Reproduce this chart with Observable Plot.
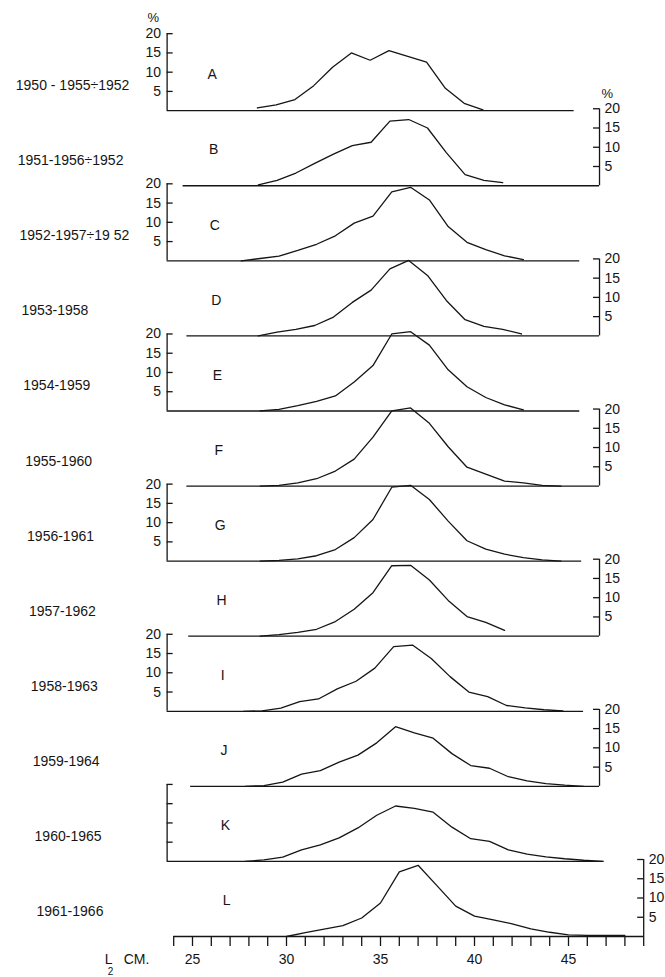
<!DOCTYPE html>
<html>
<head>
<meta charset="utf-8">
<script src="https://cdn.jsdelivr.net/npm/d3@7"></script>
<script src="https://cdn.jsdelivr.net/npm/@observablehq/plot@0.6"></script>
<style>
  html, body { margin: 0; padding: 0; background: #fff; }
  #chart svg { display: block; }
</style>
</head>
<body>
<div id="chart"></div>
<script>
// ---------------- data ----------------
const panelIds = ["A","B","C","D","E","F","G","H","I","J","K","L"];
const periods = [
  "1950 - 1955÷1952", "1951-1956÷1952", "1952-1957÷19 52", "1953-1958",
  "1954-1959", "1955-1960", "1956-1961", "1957-1962",
  "1958-1963", "1959-1964", "1960-1965", "1961-1966"
];
// length (cm) of the first plotted point of each curve; points are 1 cm apart
const firstLength = [28.45, 28.5, 27.6, 28.5, 28.6, 28.6, 28.6, 28.6, 27.7, 27.8, 27.8, 30.0];
// percentage frequencies
const pctA = [0.7, 1.5, 2.9, 6.5, 11.3, 15.0, 13.1, 15.6, 14.1, 12.6, 5.8, 1.9, 0.2];
const pctB = [0.2, 1.4, 3.3, 5.8, 8.2, 10.4, 11.3, 16.8, 17.2, 15.0, 8.6, 2.9, 1.4, 0.8];
const pctC = [0, 0.6, 1.2, 2.7, 4.3, 6.5, 9.8, 11.6, 17.9, 19.1, 15.8, 8.9, 4.8, 2.9, 1.3, 0.3];
const pctD = [0, 1.0, 1.7, 2.7, 4.9, 8.7, 11.9, 17.4, 19.6, 15.7, 9.2, 4.2, 2.5, 1.7, 0.5];
const pctE = [0, 0.4, 1.4, 2.5, 3.9, 7.5, 11.8, 20.0, 20.6, 17.1, 10.7, 6.3, 3.5, 1.6, 0.3];
const pctF = [0, 0.2, 0.8, 1.9, 3.9, 7.0, 12.7, 19.5, 20.3, 16.3, 10.2, 4.9, 3.1, 1.3, 0.8, 0.2, 0];
const pctG = [0, 0.2, 0.6, 1.4, 3.0, 6.1, 10.8, 19.2, 19.7, 16.0, 10.4, 5.3, 3.1, 1.8, 0.9, 0.3, 0];
const pctH = [0, 0.4, 1.0, 1.8, 3.8, 7.0, 11.3, 18.3, 18.4, 14.6, 9.3, 5.1, 3.6, 1.5];
const pctI = [0, 0.1, 0.8, 2.5, 3.2, 5.8, 7.8, 11.2, 16.8, 17.2, 13.7, 9.0, 5.0, 3.8, 1.5, 0.9, 0.4, 0.1];
const pctJ = [0, 0.2, 1.1, 3.2, 4.1, 6.3, 8.1, 11.3, 15.5, 13.9, 12.5, 8.5, 5.4, 4.7, 2.5, 1.4, 0.7, 0.3, 0];
const pctK = [0, 0.4, 1.1, 3.0, 4.3, 6.1, 8.7, 12.0, 14.4, 13.8, 12.8, 8.9, 5.9, 5.2, 3.0, 1.9, 1.2, 0.7, 0.3, 0];
const pctL = [0, 1.0, 1.9, 2.8, 4.8, 8.7, 16.8, 18.5, 13.2, 7.9, 5.3, 4.3, 3.3, 2.0, 1.1, 0.4, 0.3, 0.3, 0.3];
const pctSeries = [pctA, pctB, pctC, pctD, pctE, pctF, pctG, pctH, pctI, pctJ, pctK, pctL];

const yTickValues = [5, 10, 15, 20];
const xTickValues = [24,25,26,27,28,29,30,31,32,33,34,35,36,37,38,39,40,41,42,43,44,45,46,47,48,49];
const xTickLabels = [25, 30, 35, 40, 45];

// ---------------- layout ----------------
const ink = "#151515";
const W = 665, H = 977;
const yBottom = 936;          // px of the lowest baseline
const pxPerPct = 3.85;
const step = 19.5;            // vertical stacking step, in % units
const xRange = [173.2, 643.2]; // px for 24 cm .. 49 cm
const leftAxisX = 23.65, rightAxisX = 46.65, lastAxisX = 49;
const leftBaseEnd    = {A: 45.3, C: 45.6, E: 45.6, G: 45.7, I: 45.8, K: 46.9};
const rightBaseStart = {B: 24.5, D: 24.7, F: 24.7, H: 24.8, J: 24.9, L: 24};
const tickLen = 0.32;          // cm
const font = "'Liberation Sans', Arial, Helvetica, sans-serif";

const panels = panelIds.map((id, i) => {
  const off = (panelIds.length - 1 - i) * step;
  const left = i % 2 === 0;
  const axisX = left ? leftAxisX : (id === "L" ? lastAxisX : rightAxisX);
  return {
    id, i, off, left, axisX,
    b0: left ? leftAxisX : rightBaseStart[id],
    b1: left ? leftBaseEnd[id] : axisX,
    top: off + 20,
    labelled: id !== "K",
    period: periods[i],
    periodX: 15.6 + 0.1 * i,
    letterX: 26.05 + 0.07 * i
  };
});

const points = panels.flatMap(p =>
  pctSeries[p.i].map((v, j) => ({panel: p.id, x: firstLength[p.i] + j, y: p.off + v}))
);
const ticks = panels.flatMap(p =>
  yTickValues.map(v => ({...p, v, y: p.off + v, x2: p.axisX + (p.left ? tickLen : -tickLen)}))
);

const chart = Plot.plot({
  width: W,
  height: H,
  marginTop: 0,
  marginBottom: H - yBottom,
  marginLeft: xRange[0],
  marginRight: W - xRange[1],
  x: {domain: [24, 49], range: xRange},
  y: {domain: [0, yBottom / pxPerPct], range: [yBottom, 0], axis: null},
  style: {fontFamily: font, fontSize: "14px", color: ink, background: "#fff", overflow: "visible"},
  marks: [
    // baselines
    Plot.ruleY(panels, {y: "off", x1: "b0", x2: "b1", stroke: ink, strokeWidth: 1.3}),
    // vertical axes
    Plot.ruleX(panels, {x: "axisX", y1: "off", y2: "top", stroke: ink, strokeWidth: 1.3}),
    // axis ticks (pointing inward)
    Plot.ruleY(ticks, {y: "y", x1: "axisX", x2: "x2", stroke: ink, strokeWidth: 1.3}),
    // tick labels
    Plot.text(ticks.filter(d => d.left && d.labelled), {
      x: "axisX", y: "y", text: d => String(d.v), textAnchor: "end", dx: -6, fill: ink, fontSize: 14
    }),
    Plot.text(ticks.filter(d => !d.left && d.labelled), {
      x: "axisX", y: "y", text: d => String(d.v), textAnchor: "start", dx: 5, fill: ink, fontSize: 14
    }),
    // % units
    Plot.text(panels.filter(p => p.id === "A"), {
      x: "axisX", y: d => d.top + 4, text: () => "%", textAnchor: "end", dx: -8, fill: ink, fontSize: 13
    }),
    Plot.text(panels.filter(p => p.id === "B"), {
      x: "axisX", y: d => d.top + 4, text: () => "%", textAnchor: "start", dx: 2, fill: ink, fontSize: 13
    }),
    // curves
    Plot.line(points, {x: "x", y: "y", z: "panel", stroke: ink, strokeWidth: 1.3, strokeLinejoin: "miter"}),
    // panel letters
    Plot.text(panels, {x: "letterX", y: d => d.off + 9.3, text: "id", fill: ink, fontSize: 14}),
    // period labels
    Plot.text(panels, {x: "periodX", y: d => d.off + 6.5, text: "period", textAnchor: "start", fill: ink, fontSize: 14}),
    // bottom length axis
    Plot.axisX({
      ticks: xTickValues,
      tickSize: 10,
      tickPadding: 8,
      tickFormat: d => xTickLabels.includes(d) ? String(d) : "",
      stroke: ink,
      strokeWidth: 1.3,
      fill: ink,
      fontSize: 14,
      label: null
    }),
    // axis title L2 CM.
    Plot.text(["L"], {frameAnchor: "bottom-left", dx: -69, dy: 27, text: d => d, textAnchor: "start", fill: ink, fontSize: 14}),
    Plot.text(["2"], {frameAnchor: "bottom-left", dx: -66, dy: 38, text: d => d, textAnchor: "start", fill: ink, fontSize: 10}),
    Plot.text(["CM."], {frameAnchor: "bottom-left", dx: -50, dy: 27, text: d => d, textAnchor: "start", fill: ink, fontSize: 14})
  ]
});

document.getElementById("chart").appendChild(chart);
</script>
</body>
</html>
